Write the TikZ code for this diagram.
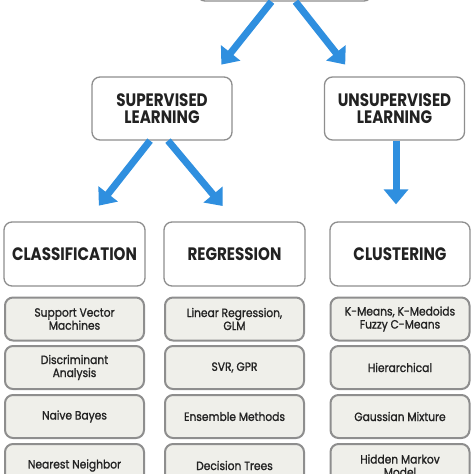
\documentclass[tikz,border=0pt]{standalone}
\usepackage{fontspec}
\setmainfont{Poppins}
\newfontfamily\hdfont[FakeStretch=0.84]{Poppins}
\newfontfamily\itfont[FakeStretch=0.89,FakeBold=1.2]{Poppins}
\usetikzlibrary{arrows.meta}
\definecolor{arrblue}{HTML}{2F8FDF}
\definecolor{bordergray}{HTML}{8E8E8E}
\definecolor{itemfill}{HTML}{EFEFEA}
\definecolor{txt}{HTML}{222222}
\tikzset{
  hdbox/.style={draw=bordergray, line width=1.3pt, fill=white, rounded corners=8pt,
    minimum width=140pt, minimum height=63pt, align=center, text=txt,
    font=\hdfont\bfseries\fontsize{18}{17}\selectfont, inner sep=0pt},
  itembox/.style={draw=bordergray, line width=2pt, fill=itemfill, rounded corners=8pt,
    minimum width=139pt, minimum height=43pt, align=center, text=txt,
    font=\itfont\fontsize{12}{13}\selectfont, inner sep=0pt},
  arr/.style={draw=arrblue, line width=7pt, -{Triangle[width=24pt,length=15pt]}}
}
\begin{document}
\begin{tikzpicture}[x=1pt,y=-1pt]
\useasboundingbox (0,0) rectangle (474,474);
\clip (0,0) rectangle (474,474);
% top box (cut off)
\node[hdbox, minimum width=175pt, minimum height=62pt] (top) at (284.5,-30) {};
% second level
\node[hdbox] (sup) at (162,108.5) {SUPERVISED\\LEARNING};
\node[hdbox] (uns) at (394.5,108.5) {UNSUPERVISED\\LEARNING};
% headers
\node[hdbox, minimum width=141pt, minimum height=64pt] (cls) at (74.5,254) {CLASSIFICATION};
\node[hdbox, minimum width=141pt, minimum height=64pt] (reg) at (234.5,254) {REGRESSION};
\node[hdbox, minimum width=140pt, minimum height=64pt] (clu) at (400,254) {CLUSTERING};
% items column 1
\node[itembox] (c1) at (74.5,319) {Support Vector\\Machines};
\node[itembox] (c2) at (74.5,367.5) {Discriminant\\Analysis};
\node[itembox] (c3) at (74.5,416.5) {Naive Bayes};
\node[itembox] (c4) at (74.5,465.5) {Nearest Neighbor};
% items column 2
\node[itembox] (r1) at (234.5,319) {Linear Regression,\\GLM};
\node[itembox] (r2) at (234.5,367.5) {SVR, GPR};
\node[itembox] (r3) at (234.5,416.5) {Ensemble Methods};
\node[itembox] (r4) at (234.5,465.5) {Decision Trees};
% items column 3
\node[itembox] (k1) at (400,319) {K-Means, K-Medoids\\Fuzzy C-Means};
\node[itembox] (k2) at (400,367.5) {Hierarchical};
\node[itembox] (k3) at (400,416.5) {Gaussian Mixture};
\node[itembox] (k4) at (400,465.5) {Hidden Markov\\Model};
% arrows
\draw[arr, shorten >=15pt] ([xshift=-13pt]top.south) -- ([xshift=50pt]sup.north);
\draw[arr, shorten >=15pt] ([xshift=11pt]top.south) -- ([xshift=-40pt]uns.north);
\draw[arr, shorten >=20pt] ([xshift=-12pt]sup.south) -- ([xshift=12pt]cls.north);
\draw[arr, shorten >=20pt] ([xshift=6pt]sup.south) -- ([xshift=1pt]reg.north);
\draw[arr, shorten >=17pt] ([xshift=1.5pt]uns.south) -- ([xshift=-4pt]clu.north);
\end{tikzpicture}
\end{document}
